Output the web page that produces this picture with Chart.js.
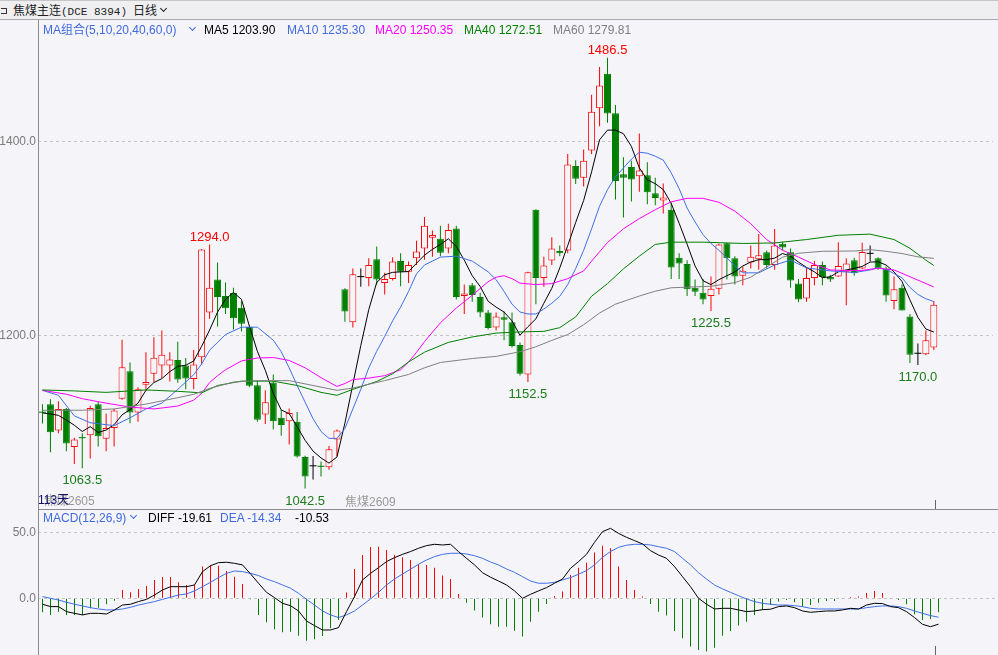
<!DOCTYPE html>
<html lang="zh">
<head>
<meta charset="utf-8">
<title>焦煤主连 日线</title>
<script src="https://cdn.jsdelivr.net/npm/chart.js@4.4.1/dist/chart.umd.min.js"></script>
<style>
  html, body { margin: 0; padding: 0; }
  body { width: 998px; height: 655px; overflow: hidden; position: relative; background: #f4f4f9;
         font-family: "Liberation Sans", Arial, "Noto Sans CJK SC", sans-serif; }
  .abs { position: absolute; }
  .t { position: absolute; white-space: nowrap; font-size: 12px; line-height: 14px; }
  .cjk { font-family: "Noto Sans CJK SC", sans-serif; }
  .chev { position: absolute; width: 4px; height: 4px; border-right: 1.5px solid; border-bottom: 1.5px solid; transform: rotate(45deg); }
  #hdr { left: 0; top: 0; width: 998px; height: 20px; background: #efeff2; border-top: 1px solid #c6c6c6; border-bottom: 1px solid #a9a9a9; box-sizing: border-box; }
  #mainBox { left: 0; top: 20px; width: 998px; height: 489px; }
  #macdBox { left: 0; top: 510px; width: 998px; height: 145px; }
</style>
</head>
<body>
<div id="hdr" class="abs"></div>
<div id="mainBox" class="abs"><canvas id="mainChart"></canvas></div>
<div id="macdBox" class="abs"><canvas id="macdChart"></canvas></div>

<!-- frame lines -->
<div class="abs" style="left:38px;top:20px;width:1px;height:635px;background:#8c8c8c"></div>
<div class="abs" style="left:38px;top:509px;width:960px;height:1px;background:#8c8c8c"></div>
<div class="abs" style="left:935px;top:500px;width:1px;height:9px;background:#666"></div>
<div class="abs" style="left:935px;top:646px;width:1px;height:9px;background:#666"></div>

<!-- header -->
<div class="abs" style="left:1px;top:8px;width:5px;height:4px;border:1px solid #333;border-left:none"></div>
<div class="t cjk" style="left:13px;top:3px;color:#222">焦煤主连<span style="font-family:'Liberation Mono',monospace;font-size:11px">(DCE 8394)</span></div>
<div class="t cjk" style="left:133px;top:3px;color:#222">日线</div>
<span class="chev" style="left:161px;top:6px;border-color:#222"></span>

<!-- MA legend row -->
<div class="t" style="left:43px;top:23px;color:#4169e1">MA组合(5,10,20,40,60,0)</div>
<span class="chev" style="left:190px;top:25px;border-color:#4169e1"></span>
<div class="t" style="left:204px;top:23px;color:#000">MA5 1203.90</div>
<div class="t" style="left:287px;top:23px;color:#4169e1">MA10 1235.30</div>
<div class="t" style="left:375px;top:23px;color:#ff00ff">MA20 1250.35</div>
<div class="t" style="left:464px;top:23px;color:#008000">MA40 1272.51</div>
<div class="t" style="left:553px;top:23px;color:#808080">MA60 1279.81</div>

<!-- contract labels -->
<div class="t" style="left:44px;top:494px;color:#9a9a9a">焦煤2605</div>
<div class="t" style="left:38px;top:493px;color:#141470">113天</div>
<div class="t" style="left:345px;top:495px;color:#9a9a9a">焦煤2609</div>

<!-- MACD legend row -->
<div class="t" style="left:43px;top:511px;color:#4169e1">MACD(12,26,9)</div>
<span class="chev" style="left:131px;top:513px;border-color:#4169e1"></span>
<div class="t" style="left:148px;top:511px;color:#000">DIFF -19.61</div>
<div class="t" style="left:220px;top:511px;color:#4169e1">DEA -14.34</div>
<div class="t" style="left:295px;top:511px;color:#000">-10.53</div>

<script>
// ---------- daily candles (113 days) ----------
const opens = [
  1121.5, 1129.5, 1102.5, 1124.5, 1085.5, 1095.5, 1097.5, 1129.5, 1094.0, 1105.0,
  1135.0, 1163.5, 1121.0, 1149.5, 1161.0, 1169.5, 1169.5, 1175.0, 1169.5, 1155.5,
  1178.0, 1224.0, 1258.0, 1241.0, 1244.0, 1229.0, 1209.0, 1149.0, 1119.0, 1152.0,
  1115.5, 1112.0, 1111.5, 1075.0, 1066.0, 1066.0, 1064.5, 1093.0, 1248.0, 1214.0,
  1261.0, 1259.5, 1279.0, 1254.5, 1258.5, 1277.0, 1266.0, 1280.0, 1290.0, 1301.0,
  1300.0, 1290.0, 1310.5, 1241.0, 1252.0, 1240.0, 1224.0, 1208.5, 1219.0, 1214.0,
  1190.5, 1160.0, 1330.0, 1259.5, 1277.5, 1287.5, 1288.0, 1375.0, 1363.0, 1391.0,
  1434.5, 1470.0, 1429.5, 1366.5, 1374.0, 1364.5, 1365.5, 1347.0, 1339.5, 1330.0,
  1280.5, 1274.0, 1249.5, 1244.5, 1241.0, 1248.5, 1295.5, 1280.0, 1262.0, 1275.5,
  1279.0, 1286.0, 1273.0, 1295.0, 1286.0, 1254.0, 1238.5, 1259.5, 1273.0, 1260.5,
  1261.0, 1266.0, 1278.0, 1269.5, 1285.0, 1280.0, 1269.5, 1236.0, 1249.5, 1220.0,
  1182.0, 1181.0, 1188.0
];
const highs = [
  1129.5, 1134.5, 1132.5, 1125.5, 1095.0, 1099.5, 1128.0, 1132.0, 1120.0, 1124.5,
  1196.0, 1172.5, 1147.0, 1183.0, 1198.5, 1205.5, 1183.0, 1194.0, 1177.0, 1185.5,
  1289.5, 1294.0, 1275.5, 1255.0, 1249.5, 1235.5, 1210.5, 1153.5, 1144.0, 1160.0,
  1123.5, 1125.0, 1121.5, 1076.5, 1076.0, 1070.5, 1086.5, 1103.5, 1249.0, 1269.5,
  1269.5, 1280.0, 1292.0, 1265.0, 1281.0, 1285.0, 1276.5, 1298.0, 1322.5, 1308.5,
  1313.5, 1315.5, 1313.5, 1253.0, 1254.5, 1244.5, 1226.5, 1224.0, 1225.0, 1224.0,
  1193.0, 1266.0, 1330.5, 1281.5, 1301.5, 1293.0, 1387.5, 1381.0, 1392.0, 1448.5,
  1477.0, 1486.5, 1438.0, 1384.0, 1380.5, 1408.5, 1379.0, 1363.0, 1357.0, 1337.5,
  1285.0, 1278.0, 1258.0, 1258.5, 1261.0, 1295.0, 1296.0, 1282.0, 1271.5, 1293.0,
  1305.0, 1288.0, 1310.0, 1297.0, 1290.0, 1258.5, 1270.5, 1277.0, 1276.5, 1263.0,
  1296.5, 1280.0, 1280.5, 1296.0, 1293.0, 1281.0, 1271.5, 1261.0, 1253.0, 1222.5,
  1192.0, 1205.5, 1236.0
];
const lows = [
  1109.5, 1080.0, 1099.5, 1081.0, 1068.0, 1063.5, 1073.5, 1086.0, 1081.0, 1086.0,
  1134.0, 1110.0, 1111.5, 1143.0, 1152.5, 1156.5, 1153.0, 1151.5, 1145.0, 1145.0,
  1170.5, 1217.5, 1209.5, 1222.5, 1206.5, 1204.5, 1147.0, 1111.5, 1109.0, 1103.5,
  1097.0, 1088.0, 1074.5, 1042.5, 1052.0, 1055.0, 1062.0, 1076.0, 1214.5, 1208.5,
  1250.5, 1251.0, 1253.0, 1242.5, 1257.0, 1251.0, 1254.5, 1273.0, 1278.5, 1281.5,
  1282.0, 1285.0, 1237.5, 1222.5, 1235.0, 1219.0, 1206.5, 1205.5, 1195.5, 1188.0,
  1159.0, 1152.5, 1232.5, 1250.5, 1273.0, 1282.0, 1285.0, 1356.5, 1354.0, 1387.5,
  1416.0, 1419.5, 1340.5, 1322.0, 1338.5, 1348.5, 1335.5, 1334.5, 1326.0, 1258.5,
  1258.5, 1241.0, 1241.0, 1232.5, 1225.5, 1242.5, 1258.0, 1253.0, 1252.0, 1269.5,
  1268.0, 1269.5, 1268.0, 1288.0, 1249.5, 1234.5, 1235.0, 1252.0, 1252.0, 1255.5,
  1260.5, 1231.5, 1262.0, 1268.5, 1276.5, 1268.0, 1235.0, 1227.5, 1226.0, 1172.0,
  1170.0, 1180.0, 1185.5
];
const closes = [
  1121.0, 1100.5, 1124.5, 1089.0, 1093.0, 1094.5, 1125.5, 1096.5, 1105.0, 1123.0,
  1167.5, 1121.0, 1145.0, 1152.5, 1177.5, 1180.5, 1175.5, 1155.0, 1156.0, 1170.5,
  1289.0, 1249.5, 1240.0, 1228.5, 1218.0, 1212.5, 1148.5, 1113.5, 1131.5, 1112.0,
  1108.0, 1120.5, 1075.5, 1055.0, 1066.0, 1065.0, 1083.0, 1102.5, 1225.0, 1263.5,
  1261.0, 1273.0, 1258.0, 1258.5, 1276.5, 1266.0, 1273.0, 1287.0, 1313.5, 1304.0,
  1285.5, 1309.0, 1240.0, 1243.5, 1242.0, 1224.0, 1208.0, 1220.0, 1216.5, 1189.5,
  1161.0, 1265.5, 1259.5, 1272.5, 1290.0, 1285.0, 1376.5, 1362.0, 1380.5, 1431.0,
  1458.0, 1429.0, 1359.5, 1363.0, 1361.0, 1370.5, 1348.0, 1342.0, 1342.5, 1270.5,
  1274.5, 1248.0, 1245.5, 1237.5, 1248.5, 1294.0, 1280.0, 1261.0, 1267.0, 1281.5,
  1283.0, 1273.0, 1293.0, 1291.0, 1257.0, 1237.5, 1259.5, 1273.0, 1260.5, 1258.0,
  1272.0, 1274.5, 1264.5, 1286.5, 1285.0, 1269.5, 1241.5, 1248.0, 1226.0, 1180.5,
  1182.0, 1195.5, 1232.0
];

// ---------- moving averages ----------
const ma5 = [
  1120.5, 1119.5, 1118.0, 1113.2, 1107.9, 1101.4, 1106.4, 1100.4, 1102.9, 1108.4,
  1118.5, 1124.0, 1130.6, 1143.8, 1151.8, 1155.9, 1163.0, 1168.5, 1169.7, 1174.0,
  1189.2, 1206.0, 1224.5, 1237.6, 1244.7, 1237.6, 1210.0, 1184.1, 1164.5, 1140.7,
  1123.6, 1119.8, 1106.4, 1092.3, 1081.2, 1074.1, 1068.8, 1075.0, 1110.0, 1150.0,
  1190.0, 1227.0, 1255.0, 1262.9, 1265.4, 1265.9, 1266.2, 1274.7, 1283.1, 1289.1,
  1294.2, 1300.0, 1292.2, 1278.0, 1261.9, 1250.8, 1235.6, 1229.6, 1224.5, 1215.4,
  1200.6, 1209.4, 1217.5, 1233.6, 1249.0, 1270.0, 1293.0, 1316.8, 1339.5, 1369.0,
  1402.0, 1412.0, 1412.0, 1408.3, 1395.2, 1373.0, 1360.8, 1356.8, 1350.7, 1336.5,
  1316.0, 1294.5, 1272.0, 1256.8, 1252.8, 1257.9, 1261.9, 1265.9, 1272.0, 1276.0,
  1278.5, 1278.5, 1280.1, 1284.8, 1282.1, 1276.0, 1270.5, 1265.9, 1259.9, 1260.9,
  1265.9, 1267.9, 1269.5, 1271.5, 1276.0, 1276.3, 1273.0, 1265.9, 1256.0, 1237.0,
  1219.0, 1207.0, 1203.9
];
// [day, value] pairs read where the smoother lines were measured
const ma10 = [
  [0, 1143.8], [2, 1138.7], [4, 1117.5], [6, 1110.4], [9, 1107.4], [11, 1115.5], [13, 1124.6],
  [15, 1130.6], [17, 1144.8], [19, 1159.9], [20, 1171.0], [21, 1185.1], [22, 1193.2], [23, 1201.3],
  [25, 1208.9], [27, 1208.9], [29, 1195.5], [30, 1183.6], [31, 1167.0], [32, 1148.8], [33, 1131.6],
  [34, 1114.5], [35, 1101.4], [36, 1094.3], [37, 1094.3], [38, 1104.4], [39, 1124.6], [40, 1144.8],
  [41, 1167.0], [42, 1184.1], [43, 1199.3], [44, 1215.4], [45, 1229.6], [46, 1245.7], [47, 1263.9],
  [48, 1273.0], [50, 1281.1], [52, 1282.1], [54, 1277.0], [56, 1265.9], [57, 1257.9], [58, 1245.7],
  [59, 1232.6], [60, 1224.5], [61, 1222.5], [62, 1222.5], [63, 1227.6], [64, 1233.6], [65, 1240.7],
  [66, 1252.8], [67, 1269.3], [68, 1288.1], [69, 1310.3], [70, 1333.6], [71, 1350.7], [72, 1363.9],
  [73, 1373.0], [74, 1382.1], [75, 1389.2], [76, 1388.2], [77, 1385.1], [78, 1381.1], [79, 1368.0],
  [80, 1351.7], [81, 1331.6], [82, 1317.4], [83, 1304.3], [84, 1295.2], [85, 1288.1], [86, 1280.1],
  [87, 1272.0], [88, 1264.9], [90, 1264.9], [92, 1273.0], [94, 1278.0], [96, 1270.0], [99, 1266.9],
  [102, 1265.2], [104, 1267.9], [105, 1270.0], [106, 1268.4], [108, 1259.9], [109, 1249.8],
  [110, 1242.7], [111, 1238.2], [112, 1235.3]
];
const ma20 = [
  [0, 1143.8], [3, 1139.8], [5, 1135.2], [8, 1130.6], [11, 1126.6], [14, 1124.6], [17, 1127.6],
  [19, 1133.7], [20, 1140.7], [21, 1151.8], [22, 1158.9], [23, 1165.0], [25, 1174.1], [27, 1177.1],
  [29, 1177.6], [31, 1174.6], [33, 1167.0], [35, 1156.9], [37, 1147.8], [38, 1150.8], [39, 1154.9],
  [41, 1156.4], [43, 1158.9], [45, 1165.0], [46, 1173.0], [47, 1183.0], [48, 1194.0], [50, 1213.4],
  [52, 1228.6], [54, 1241.7], [56, 1255.8], [57, 1260.4], [58, 1261.9], [59, 1258.9], [60, 1254.3],
  [62, 1252.8], [64, 1253.8], [66, 1258.9], [68, 1266.9], [69, 1277.0], [71, 1296.2], [73, 1310.3],
  [75, 1320.8], [77, 1330.0], [79, 1338.1], [81, 1341.7], [83, 1341.7], [85, 1337.6], [87, 1328.5],
  [89, 1315.5], [91, 1299.2], [93, 1288.1], [95, 1281.1], [97, 1273.5], [99, 1267.9], [101, 1267.2],
  [103, 1267.4], [105, 1269.7], [107, 1267.9], [108, 1264.4], [110, 1257.4], [112, 1250.35]
];
const ma40 = [
  [0, 1144.2], [4, 1143.2], [8, 1141.7], [13, 1144.2], [17, 1142.8], [20, 1141.2], [22, 1148.8],
  [25, 1153.3], [29, 1153.3], [32, 1148.8], [35, 1141.7], [37, 1138.7], [39, 1144.8], [42, 1152.9],
  [44, 1160.9], [46, 1173.0], [48, 1183.1], [51, 1193.2], [54, 1198.8], [57, 1202.8], [60, 1204.0],
  [63, 1204.6], [65, 1208.4], [67, 1219.5], [69, 1240.8], [71, 1253.8], [73, 1269.0], [75, 1282.1],
  [77, 1294.2], [79, 1296.5], [83, 1296.5], [88, 1295.2], [92, 1295.7], [96, 1299.2], [100, 1303.6],
  [104, 1304.8], [107, 1299.2], [109, 1290.2], [111, 1278.0], [112, 1272.51]
];
const ma60 = [
  [0, 1123.3], [5, 1123.3], [9, 1124.6], [13, 1129.6], [17, 1136.2], [19, 1139.7], [21, 1145.8],
  [24, 1152.3], [27, 1153.8], [31, 1153.8], [34, 1148.8], [37, 1143.8], [39, 1146.1], [41, 1150.1],
  [43, 1153.8], [46, 1160.2], [48, 1167.0], [50, 1172.5], [54, 1176.6], [57, 1178.8], [60, 1183.6],
  [62, 1188.7], [64, 1195.3], [66, 1201.3], [68, 1211.4], [70, 1223.5], [72, 1232.6], [75, 1241.0],
  [77, 1246.0], [79, 1249.5], [81, 1250.1], [84, 1251.1], [87, 1254.8], [89, 1260.4], [91, 1271.0],
  [93, 1281.0], [95, 1285.1], [98, 1287.1], [102, 1287.4], [104, 1288.8], [106, 1287.1],
  [108, 1284.8], [110, 1281.4], [112, 1279.81]
];

// ---------- MACD(12,26,9) ----------
const diff = [
  -4.5, -6.3, -6.3, -10.1, -11.4, -12.6, -11.4, -11.4, -11.9, -8.8,
  -5.1, -4.5, -2.5, -0.8, 2.5, 6.3, 8.8, 8.8, 8.8, 10.1,
  20.2, 24.7, 27.0, 27.3, 26.5, 25.3, 18.5, 11.4, 4.5, 0.5,
  -3.8, -5.6, -9.6, -17.2, -20.7, -24.0, -24.0, -22.2, -10.1, 1.3,
  13.9, 18.9, 23.2, 27.8, 30.8, 33.3, 35.4, 37.9, 39.9, 40.9,
  40.4, 40.9, 35.4, 30.3, 25.3, 19.4, 16.0, 13.1, 10.1, 5.6,
  0.0, 3.0, 5.6, 8.1, 11.4, 14.6, 22.7, 27.8, 33.3, 42.4,
  50.5, 53.0, 49.2, 46.2, 43.7, 41.2, 36.1, 32.8, 30.3, 24.0,
  16.4, 8.8, 0.0, -4.5, -8.1, -7.6, -7.6, -8.8, -10.1, -9.6,
  -8.6, -8.3, -6.3, -5.8, -7.1, -9.6, -10.6, -10.1, -9.6, -9.6,
  -8.8, -7.6, -8.1, -5.1, -3.8, -4.0, -6.3, -7.1, -10.1, -14.6,
  -19.7, -21.5, -19.61
];
const dea = [
  1.3, 0.0, -1.3, -3.0, -4.5, -5.8, -7.1, -8.1, -8.8, -8.8,
  -8.1, -6.8, -5.1, -3.8, -2.5, -0.8, 0.8, 2.5, 3.3, 5.6,
  8.8, 12.1, 15.7, 18.9, 20.7, 20.2, 18.9, 17.2, 14.6, 12.6,
  10.1, 7.6, 3.8, -0.8, -5.1, -9.6, -12.6, -14.6, -12.6, -9.6,
  -5.1, -0.5, 4.5, 10.1, 14.6, 18.4, 22.0, 25.8, 29.0, 31.6,
  33.3, 34.1, 34.1, 33.6, 32.3, 30.3, 27.5, 25.3, 22.2, 19.7,
  16.4, 13.1, 11.4, 11.4, 12.1, 13.9, 15.7, 18.2, 21.0, 25.3,
  31.1, 35.4, 38.6, 40.2, 40.9, 40.9, 40.4, 39.1, 37.9, 35.4,
  30.3, 25.3, 19.4, 14.6, 10.1, 7.1, 4.5, 2.0, -0.5, -2.5,
  -3.8, -4.5, -5.1, -5.1, -5.6, -6.3, -7.6, -8.1, -8.1, -8.1,
  -8.1, -8.1, -8.1, -7.1, -6.3, -5.8, -5.8, -6.3, -7.6, -9.6,
  -11.4, -13.1, -14.34
];
const macdHist = [
  -10.6, -12.6, -10.1, -12.6, -12.6, -12.6, -7.6, -7.1, -4.5, -1.8,
  6.3, 4.5, 7.1, 9.3, 13.9, 16.2, 16.2, 12.1, 10.1, 10.1,
  24.0, 25.3, 24.7, 20.7, 16.4, 10.9, -0.8, -12.6, -18.2, -23.5,
  -25.8, -25.3, -28.3, -32.1, -31.1, -28.5, -22.7, -16.4, 4.3, 22.2,
  32.8, 38.9, 39.1, 36.6, 32.8, 31.1, 29.0, 25.8, 25.3, 23.2,
  17.2, 14.6, 3.3, -3.3, -9.3, -14.6, -19.7, -21.5, -21.5, -24.5,
  -29.0, -17.7, -10.1, -4.3, 1.8, 5.1, 17.7, 23.2, 27.0, 34.6,
  39.9, 37.9, 24.0, 13.9, 6.3, 1.3, -4.3, -10.1, -13.1, -24.7,
  -30.3, -36.6, -39.1, -40.4, -37.4, -28.3, -24.7, -20.7, -17.7, -12.6,
  -8.8, -5.1, -2.5, -1.3, -3.0, -6.3, -5.1, -3.3, -2.0, -2.0,
  -0.5, 1.0, 1.3, 4.0, 5.6, 4.0, -0.5, -1.3, -4.5, -12.1,
  -16.4, -15.7, -10.53
];

// ---------- ticks and marked extremes ----------
const priceTicks = [1200, 1400];
const macdTicks = [0, 50];
const highMarks = [21, 71];
const lowMarks = [5, 33, 61, 84, 110];

// ---------- styling ----------
const BG = "#f4f4f9";
const UP = "#ff0000";
const DOWN = "#007f00";
const FLAT = "#000000";
const BLUE = "#3f6fe6";
const FONT = '"Liberation Sans", Arial, sans-serif';

// 120 slots of 8px over the 960px plot, candles centred on pixel columns
const X_MIN = -0.5625;
const X_MAX = 119.4375;

const days = opens.map((_, i) => i);
function dirOf(i) {
    if (closes[i] > opens[i]) return 1;
    if (closes[i] < opens[i]) return -1;
    return 0;
}
function colorOf(i) {
    const d = dirOf(i);
    return d > 0 ? UP : d < 0 ? DOWN : FLAT;
}
const isDoji = i => Math.abs(closes[i] - opens[i]) < 1.2;
const bodyDays = days.filter(i => !isDoji(i));
const dojiDays = days.filter(isDoji);
const pairs = list => list.map(([x, y]) => ({ x, y }));

function fixedAxis(ticks, width) {
    return {
        afterFit(scale) {
            scale.width = width;
            scale.paddingTop = 0;
            scale.paddingBottom = 0;
        },
        afterBuildTicks(scale) {
            scale.ticks = ticks.map(v => ({ value: v }));
        }
    };
}

const dayAxis = { type: "linear", min: X_MIN, max: X_MAX, offset: false, display: false };

/* -------------------------------
   HIGH / LOW LABELS
--------------------------------*/
const extremeLabels = {
    id: "extremeLabels",
    afterDatasetsDraw(chart) {
        const { ctx, scales: { x, y } } = chart;
        ctx.save();
        ctx.font = "13px " + FONT;
        ctx.textAlign = "center";
        ctx.textBaseline = "alphabetic";
        highMarks.forEach(i => {
            ctx.fillStyle = "#ff0000";
            ctx.fillText(highs[i].toFixed(1), x.getPixelForValue(i), y.getPixelForValue(highs[i]) - 3.5);
        });
        lowMarks.forEach(i => {
            ctx.fillStyle = "#1b7d1b";
            ctx.fillText(lows[i].toFixed(1), x.getPixelForValue(i), y.getPixelForValue(lows[i]) + 16);
        });
        ctx.restore();
    }
};

/* -------------------------------
   PRICE PANEL
--------------------------------*/
function maLine(data, color) {
    return {
        type: "line",
        data,
        borderColor: color,
        borderWidth: 1,
        pointRadius: 0,
        tension: 0,
        order: 0
    };
}

new Chart(document.getElementById("mainChart"), {
    type: "bar",
    data: {
        datasets: [
            {
                label: "wick",
                data: days.map(i => ({ x: i, y: [lows[i], highs[i]] })),
                backgroundColor: days.map(colorOf),
                barThickness: 1,
                inflateAmount: 0,
                grouped: false,
                order: 3
            },
            {
                label: "body",
                data: bodyDays.map(i => ({ x: i, y: [opens[i], closes[i]] })),
                backgroundColor: bodyDays.map(i => dirOf(i) > 0 ? BG : DOWN),
                borderColor: bodyDays.map(colorOf),
                borderWidth: 1,
                borderSkipped: false,
                barThickness: 7,
                inflateAmount: 0,
                grouped: false,
                order: 2
            },
            {
                type: "line",
                label: "doji",
                data: dojiDays.map(i => ({ x: i, y: (opens[i] + closes[i]) / 2 })),
                showLine: false,
                pointStyle: "line",
                pointRadius: 3.5,
                pointBorderWidth: 1,
                pointBorderColor: dojiDays.map(colorOf),
                order: 1
            },
            maLine(pairs(ma60), "#808080"),
            maLine(pairs(ma40), "#008000"),
            maLine(pairs(ma20), "#ff00ff"),
            maLine(pairs(ma10), BLUE),
            maLine(ma5.map((v, i) => ({ x: i, y: v })), "#000000")
        ]
    },
    options: {
        responsive: true,
        maintainAspectRatio: false,
        animation: false,
        devicePixelRatio: 1,
        events: [],
        layout: { padding: 0 },
        plugins: { legend: { display: false }, tooltip: { enabled: false } },
        scales: {
            x: dayAxis,
            y: {
                position: "left",
                min: 1026.65,
                max: 1520.34,
                ...fixedAxis(priceTicks, 38),
                ticks: {
                    color: "#7a7a7a",
                    font: { family: FONT, size: 12 },
                    padding: 2,
                    callback: v => Number(v).toFixed(1)
                },
                grid: { color: "#c4c4c4", drawTicks: false },
                border: { display: false, dash: [3, 3] }
            }
        }
    },
    plugins: [extremeLabels]
});

/* -------------------------------
   MACD PANEL
--------------------------------*/
new Chart(document.getElementById("macdChart"), {
    type: "bar",
    data: {
        datasets: [
            {
                label: "MACD",
                data: days.map(i => ({ x: i, y: macdHist[i] })),
                backgroundColor: days.map(i => macdHist[i] >= 0 ? UP : DOWN),
                barThickness: 1,
                inflateAmount: 0,
                grouped: false,
                order: 2
            },
            {
                type: "line",
                label: "DEA",
                data: dea.map((v, i) => ({ x: i, y: v })),
                borderColor: BLUE,
                borderWidth: 1,
                pointRadius: 0,
                order: 1
            },
            {
                type: "line",
                label: "DIFF",
                data: diff.map((v, i) => ({ x: i, y: v })),
                borderColor: "#000000",
                borderWidth: 1,
                pointRadius: 0,
                order: 0
            }
        ]
    },
    options: {
        responsive: true,
        maintainAspectRatio: false,
        animation: false,
        devicePixelRatio: 1,
        events: [],
        layout: { padding: 0 },
        plugins: { legend: { display: false }, tooltip: { enabled: false } },
        scales: {
            x: dayAxis,
            y: {
                position: "left",
                min: -42.96,
                max: 66.89,
                ...fixedAxis(macdTicks, 38),
                ticks: {
                    color: "#7a7a7a",
                    font: { family: FONT, size: 12 },
                    padding: 2,
                    callback: v => Number(v).toFixed(1)
                },
                grid: { color: "#c4c4c4", drawTicks: false },
                border: { display: false, dash: [3, 3] }
            }
        }
    }
});
</script>
</body>
</html>
